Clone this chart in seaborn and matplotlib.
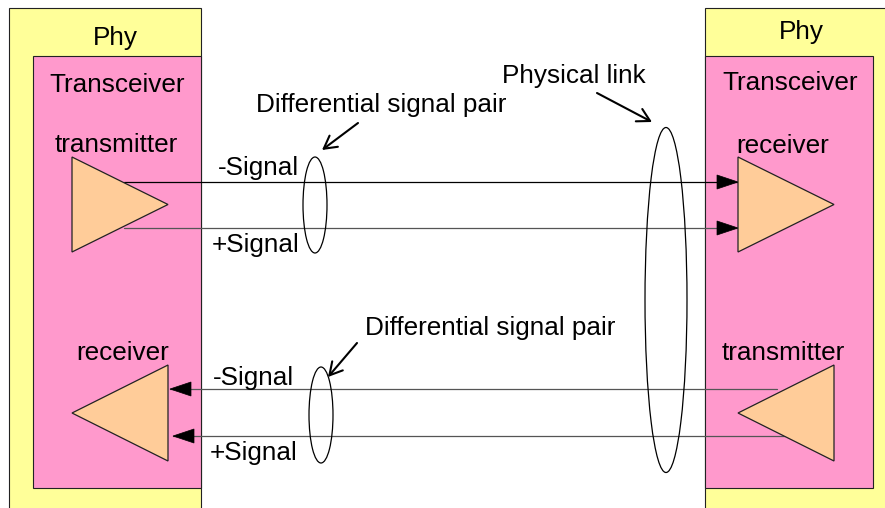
import matplotlib
matplotlib.use("Agg")
import matplotlib.pyplot as plt
import seaborn as sns
from matplotlib.patches import Rectangle, Polygon, Ellipse

sns.set_theme(style="white")
plt.rcParams['font.family'] = ['Liberation Sans', 'DejaVu Sans']

# ---- diagram content ----
box_labels = ["Phy", "Transceiver"]
left_blocks = ["transmitter", "receiver"]
right_blocks = ["receiver", "transmitter"]
signal_labels = ["-Signal", "+Signal"]
callouts = ["Differential signal pair", "Differential signal pair", "Physical link"]

# geometry (pixel space, y downwards)
phy_left = (9, 8, 192, 520)
phy_right = (705, 8, 200, 520)
trx_left = (33, 56, 168, 432)
trx_right = (705, 56, 168, 432)

tri_up = (157, 252)       # upper amplifier y-range
tri_dn = (365, 461)       # lower amplifier y-range
tri_left_x = (72, 168)
tri_right_x = (738, 834)

sig_y_top = [182, 228]
sig_y_bot = [389, 436]

YELLOW = "#FFFF99"
PINK = "#FF99CC"
ORANGE = "#FFCC99"

fig = plt.figure(figsize=(8.85, 5.08), dpi=100)
ax = fig.add_axes([0, 0, 1, 1])
ax.set_xlim(0, 885)
ax.set_ylim(508, 0)
ax.axis("off")

for (x, y, w, h) in [phy_left, phy_right]:
    ax.add_patch(Rectangle((x, y), w, h, facecolor=YELLOW, edgecolor="#222", lw=0.8, zorder=1))
for (x, y, w, h) in [trx_left, trx_right]:
    ax.add_patch(Rectangle((x, y), w, h, facecolor=PINK, edgecolor="#222", lw=0.8, zorder=2))

# signal lines
ax.plot([124, 738], [sig_y_top[0]] * 2, color="#000", lw=0.9, zorder=3)
ax.plot([124, 738], [sig_y_top[1]] * 2, color="#555", lw=0.9, zorder=3)
ax.plot([170, 777], [sig_y_bot[0]] * 2, color="#555", lw=0.9, zorder=3)
ax.plot([173, 785], [sig_y_bot[1]] * 2, color="#555", lw=0.9, zorder=3)

def head(tip_x, y, direction):
    L, hw = 21, 7
    pts = [(tip_x, y), (tip_x - direction * L, y - hw), (tip_x - direction * L, y + hw)]
    ax.add_patch(Polygon(pts, closed=True, facecolor="#000", edgecolor="#000", lw=0.5, zorder=4))

for y in sig_y_top:
    head(738, y, 1)
head(170, sig_y_bot[0], -1)
head(173, sig_y_bot[1], -1)

def tri(xb, xt, yr):
    ym = (yr[0] + yr[1]) / 2
    ax.add_patch(Polygon([(xb, yr[0]), (xb, yr[1]), (xt, ym)], closed=True,
                         facecolor=ORANGE, edgecolor="#222", lw=0.9, zorder=5))

tri(tri_left_x[0], tri_left_x[1], tri_up)     # left transmitter
tri(tri_right_x[0], tri_right_x[1], tri_up)   # right receiver
tri(tri_left_x[1], tri_left_x[0], tri_dn)     # left receiver
tri(tri_right_x[1], tri_right_x[0], tri_dn)   # right transmitter

# ellipses
for (cx, cy, w, h) in [(315, 205, 24, 96), (321, 415, 24, 96), (666, 300, 42, 345)]:
    ax.add_patch(Ellipse((cx, cy), w, h, facecolor="none", edgecolor="#000", lw=0.9, zorder=6))

fs = 18.8
def txt(x, y, s, ha="center"):
    ax.text(x, y, s, ha=ha, va="baseline", fontsize=fs, color="#000", zorder=7)

txt(115, 45, box_labels[0])
txt(801, 39, box_labels[0])
txt(117, 92, box_labels[1])
txt(790, 90, box_labels[1])
txt(116, 152, left_blocks[0])
txt(123, 360, left_blocks[1])
txt(783, 153, right_blocks[0])
txt(783, 360, right_blocks[1])

txt(218, 175, signal_labels[0], ha="left")
txt(212, 252, signal_labels[1], ha="left")
txt(213, 385, signal_labels[0], ha="left")
txt(210, 460, signal_labels[1], ha="left")

txt(381, 112, callouts[0])
txt(490, 335, callouts[1])
txt(574, 83, callouts[2])

ap = dict(arrowstyle="->,head_length=0.45,head_width=0.25", lw=1.5, color="#000",
          mutation_scale=20, shrinkA=0, shrinkB=0)
ax.annotate("", xy=(322, 150), xytext=(358, 123), arrowprops=ap, zorder=7)
ax.annotate("", xy=(328, 377), xytext=(357, 343), arrowprops=ap, zorder=7)
ax.annotate("", xy=(652, 122), xytext=(597, 93), arrowprops=ap, zorder=7)

fig.savefig("out.png", dpi=100)
